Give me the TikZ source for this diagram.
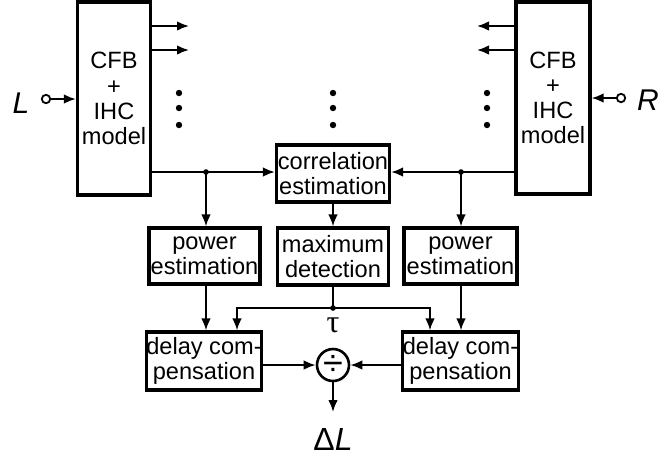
\documentclass[tikz,border=0pt]{standalone}
\usepackage{fontspec}
\setmainfont{Liberation Sans}
\newfontfamily\greekserif{Liberation Serif}
\usetikzlibrary{arrows.meta}

\begin{document}
\begin{tikzpicture}[x=0.5pt,y=-0.5pt,>={Latex[length=6pt,width=4.8pt]},
  every node/.style={font=\fontsize{11.8}{12.6}\selectfont},
  blk/.style={draw,line width=1.6pt,align=center,inner sep=0pt},
  sig/.style={line width=1pt},
  jdot/.style={circle,fill,inner sep=0pt,minimum size=2.8pt},
  port/.style={circle,draw,line width=0.9pt,fill=white,inner sep=0pt,minimum size=4.2pt},
  chdot/.style={circle,fill,inner sep=0pt,minimum size=3.2pt},
  lbl/.style={font=\fontsize{15}{15}\selectfont\itshape}]
  \useasboundingbox (0,0) rectangle (667,457);

  % filter banks
  \node[blk,minimum width=36.5pt,minimum height=96.5pt] (cfbL) at (114,98.5) {CFB\\+\\IHC\\model};
  \node[blk,minimum width=37pt,minimum height=96pt] (cfbR) at (553,98) {CFB\\+\\IHC\\model};

  % inputs
  \node[lbl] (labL) at (21,103) {L};
  \node[port] (inL) at (46,99) {};
  \draw[sig,->] (inL) -- (inL -| cfbL.west);
  \node[lbl] (labR) at (648,100) {R};
  \node[port] (inR) at (621,98) {};
  \draw[sig,->] (inR) -- (inR -| cfbR.east);

  % channel outputs
  \foreach \y [count=\i] in {26,50}{
    \coordinate (oL\i) at (189,\y);
    \coordinate (oR\i) at (477,\y);
    \draw[sig,->] (cfbL.east |- oL\i) -- (oL\i);
    \draw[sig,->] (cfbR.west |- oR\i) -- (oR\i);
  }
  \foreach \x in {179,333,487}{
    \foreach \y in {93,108,125}{
      \node[chdot] (d\x-\y) at (\x,\y) {};
    }
  }

  % processing blocks
  \node[blk,minimum width=56.5pt,minimum height=28.5pt] (corr) at (333,173.5) {correlation\\estimation};
  \node[blk,minimum width=55.5pt,minimum height=28.5pt] (maxd) at (333,256.5) {maximum\\detection};
  \node[blk,minimum width=55.5pt,minimum height=28pt] (powL) at (204.5,256) {power\\estimation};
  \node[blk,minimum width=56.5pt,minimum height=28pt] (powR) at (460.5,256) {power\\estimation};
  \node[blk,minimum width=56pt,minimum height=29pt] (delL) at (204,361) {delay com-\\pensation};
  \node[blk,minimum width=56.5pt,minimum height=29pt] (delR) at (460.5,361) {delay com-\\pensation};
  \node[circle,draw,line width=1.3pt,inner sep=0pt,minimum size=16pt,
        font=\fontsize{18}{18}\selectfont] (div) at (333,365) {÷};

  % signal paths
  \coordinate (jL) at (206,172);
  \coordinate (jR) at (461,172);
  \draw[sig,->] (cfbL.east |- jL) -- (corr.west |- jL);
  \draw[sig,->] (cfbR.west |- jR) -- (corr.east |- jR);
  \node[jdot] at (jL) {};
  \node[jdot] at (jR) {};
  \draw[sig,->] (jL) -- (jL |- powL.north);
  \draw[sig,->] (jR) -- (jR |- powR.north);
  \draw[sig,->] (corr) -- (maxd);
  \draw[sig,->] (powL.south -| jL) -- (jL |- delL.north);
  \draw[sig,->] (powR.south -| jR) -- (jR |- delR.north);

  \coordinate (jT) at (333,308);
  \coordinate (tL) at (237,308);
  \coordinate (tR) at (430,308);
  \draw[sig] (maxd) -- (jT);
  \node[jdot] at (jT) {};
  \draw[sig,->] (jT) -- (tL) -- (tL |- delL.north);
  \draw[sig,->] (jT) -- (tR) -- (tR |- delR.north);
  \node[font=\fontsize{16}{16}\greekserif] (tau) at (333,325) {τ};

  \draw[sig,->] (delL.east |- div) -- (div);
  \draw[sig,->] (delR.west |- div) -- (div);
  \coordinate (dLtop) at (333,412);
  \draw[sig,->] (div) -- (dLtop);
  \node[font=\fontsize{16}{16}\selectfont] (dL) at (333,439) {Δ\textit{L}};
\end{tikzpicture}
\end{document}
